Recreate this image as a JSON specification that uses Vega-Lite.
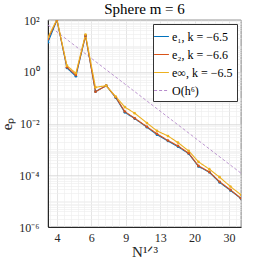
{
  "$schema": "https://vega.github.io/schema/vega-lite/v6.json",
  "width": 193,
  "height": 207,
  "autosize": "none",
  "padding": {"left": 48, "top": 20, "right": 25, "bottom": 39},
  "background": "white",
  "title": {"text": "Sphere m = 6", "font": "Liberation Serif", "fontSize": 15, "fontWeight": "normal", "color": "#000000", "offset": 4, "baseline": "bottom", "dy": 22},
  "config": {
    "view": {"stroke": "#262626", "strokeWidth": 0.6},
    "axis": {"labelFont": "Liberation Serif", "labelFontSize": 12, "labelColor": "#262626", "titleFont": "Liberation Serif", "titleFontSize": 15, "titleColor": "#262626", "titleFontWeight": "normal", "domainColor": "#262626", "ticks": false, "labelOverlap": false, "labelBound": false, "labelFlush": false},
    "legend": {"labelFont": "Liberation Serif", "labelFontSize": 12, "labelColor": "#000000"}
  },
  "datasets": {
    "errs": [
      {"n": 3.6, "err": 13.8, "series": "e₁, k = −6.5"},
      {"n": 4.0, "err": 100, "series": "e₁, k = −6.5"},
      {"n": 4.5, "err": 1.4, "series": "e₁, k = −6.5"},
      {"n": 5.0, "err": 0.67, "series": "e₁, k = −6.5"},
      {"n": 5.6, "err": 24.8, "series": "e₁, k = −6.5"},
      {"n": 6.3, "err": 0.17, "series": "e₁, k = −6.5"},
      {"n": 7.15, "err": 0.29, "series": "e₁, k = −6.5"},
      {"n": 8.0, "err": 0.1, "series": "e₁, k = −6.5"},
      {"n": 8.9, "err": 0.027, "series": "e₁, k = −6.5"},
      {"n": 10.0, "err": 0.0155, "series": "e₁, k = −6.5"},
      {"n": 11.55, "err": 0.0072, "series": "e₁, k = −6.5"},
      {"n": 13.0, "err": 0.0037, "series": "e₁, k = −6.5"},
      {"n": 14.8, "err": 0.0021, "series": "e₁, k = −6.5"},
      {"n": 16.65, "err": 0.00128, "series": "e₁, k = −6.5"},
      {"n": 18.9, "err": 0.00068, "series": "e₁, k = −6.5"},
      {"n": 21.2, "err": 0.00022, "series": "e₁, k = −6.5"},
      {"n": 24.1, "err": 0.00013, "series": "e₁, k = −6.5"},
      {"n": 27.2, "err": 0.000053, "series": "e₁, k = −6.5"},
      {"n": 30.9, "err": 0.000026, "series": "e₁, k = −6.5"},
      {"n": 35.0, "err": 0.0000125, "series": "e₁, k = −6.5"},
      {"n": 3.6, "err": 18.5, "series": "e₂, k = −6.6"},
      {"n": 4.0, "err": 100, "series": "e₂, k = −6.6"},
      {"n": 4.5, "err": 1.49, "series": "e₂, k = −6.6"},
      {"n": 5.0, "err": 0.75, "series": "e₂, k = −6.6"},
      {"n": 5.6, "err": 24.8, "series": "e₂, k = −6.6"},
      {"n": 6.3, "err": 0.17, "series": "e₂, k = −6.6"},
      {"n": 7.15, "err": 0.29, "series": "e₂, k = −6.6"},
      {"n": 8.0, "err": 0.103, "series": "e₂, k = −6.6"},
      {"n": 8.9, "err": 0.029, "series": "e₂, k = −6.6"},
      {"n": 10.0, "err": 0.016, "series": "e₂, k = −6.6"},
      {"n": 11.55, "err": 0.0075, "series": "e₂, k = −6.6"},
      {"n": 13.0, "err": 0.004, "series": "e₂, k = −6.6"},
      {"n": 14.8, "err": 0.0022, "series": "e₂, k = −6.6"},
      {"n": 16.65, "err": 0.00137, "series": "e₂, k = −6.6"},
      {"n": 18.9, "err": 0.00071, "series": "e₂, k = −6.6"},
      {"n": 21.2, "err": 0.00023, "series": "e₂, k = −6.6"},
      {"n": 24.1, "err": 0.000135, "series": "e₂, k = −6.6"},
      {"n": 27.2, "err": 0.000056, "series": "e₂, k = −6.6"},
      {"n": 30.9, "err": 0.0000273, "series": "e₂, k = −6.6"},
      {"n": 35.0, "err": 0.0000129, "series": "e₂, k = −6.6"},
      {"n": 3.6, "err": 21.5, "series": "e∞, k = −6.5"},
      {"n": 4.0, "err": 105, "series": "e∞, k = −6.5"},
      {"n": 4.5, "err": 1.72, "series": "e∞, k = −6.5"},
      {"n": 5.0, "err": 0.875, "series": "e∞, k = −6.5"},
      {"n": 5.6, "err": 27.5, "series": "e∞, k = −6.5"},
      {"n": 6.3, "err": 0.25, "series": "e∞, k = −6.5"},
      {"n": 7.15, "err": 0.29, "series": "e∞, k = −6.5"},
      {"n": 8.0, "err": 0.11, "series": "e∞, k = −6.5"},
      {"n": 8.9, "err": 0.043, "series": "e∞, k = −6.5"},
      {"n": 10.0, "err": 0.025, "series": "e∞, k = −6.5"},
      {"n": 11.55, "err": 0.0105, "series": "e∞, k = −6.5"},
      {"n": 13.0, "err": 0.0052, "series": "e∞, k = −6.5"},
      {"n": 14.8, "err": 0.0033, "series": "e∞, k = −6.5"},
      {"n": 16.65, "err": 0.00183, "series": "e∞, k = −6.5"},
      {"n": 18.9, "err": 0.00087, "series": "e∞, k = −6.5"},
      {"n": 21.2, "err": 0.00033, "series": "e∞, k = −6.5"},
      {"n": 24.1, "err": 0.000172, "series": "e∞, k = −6.5"},
      {"n": 27.2, "err": 0.0000845, "series": "e∞, k = −6.5"},
      {"n": 30.9, "err": 0.0000366, "series": "e∞, k = −6.5"},
      {"n": 35.0, "err": 0.0000175, "series": "e∞, k = −6.5"}
    ],
    "ref": [
      {"n": 3.6, "err": 64, "series": "O(h⁶)"},
      {"n": 35.0, "err": 0.00012, "series": "O(h⁶)"}
    ]
  },
  "encoding": {
    "x": {
      "field": "n", "type": "quantitative",
      "scale": {"type": "log", "domain": [3.6, 35], "nice": false, "zero": false},
      "axis": {
        "title": "N¹ᐟ³",
        "values": [3.688, 4, 4.338, 4.705, 5.102, 5.533, 6, 6.507, 7.057, 7.653, 8.299, 9, 9.761, 10.585, 11.48, 12.45, 13.5, 14.64, 15.88, 17.22, 18.67, 20.25, 21.96, 23.82, 25.83, 28.01, 30.375, 32.94],
        "labelExpr": "indexof([4,6,9,13.5,20.25,30.375], datum.value) >= 0 ? '' + floor(datum.value) : ''",
        "gridColor": {"condition": {"test": "indexof([4,6,9,13.5,20.25,30.375], datum.value) >= 0", "value": "#d4d4d4"}, "value": "#ededed"},
        "gridWidth": 0.6,
        "labelPadding": 5,
        "titlePadding": 1
      }
    },
    "y": {
      "field": "err", "type": "quantitative",
      "scale": {"type": "log", "domain": [0.000001, 100], "nice": false, "zero": false},
      "axis": {
        "title": "eₚ",
        "values": [1e-6, 2e-6, 3e-6, 4e-6, 5e-6, 6e-6, 7e-6, 8e-6, 9e-6, 1e-5, 2e-5, 3e-5, 4e-5, 5e-5, 6e-5, 7e-5, 8e-5, 9e-5, 0.0001, 0.0002, 0.0003, 0.0004, 0.0005, 0.0006, 0.0007, 0.0008, 0.0009, 0.001, 0.002, 0.003, 0.004, 0.005, 0.006, 0.007, 0.008, 0.009, 0.01, 0.02, 0.03, 0.04, 0.05, 0.06, 0.07, 0.08, 0.09, 0.1, 0.2, 0.3, 0.4, 0.5, 0.6, 0.7, 0.8, 0.9, 1, 2, 3, 4, 5, 6, 7, 8, 9, 10, 20, 30, 40, 50, 60, 70, 80, 90, 100],
        "labelExpr": "datum.value == 100 ? '10²' : datum.value == 1 ? '10⁰' : datum.value == 0.01 ? '10⁻²' : datum.value == 0.0001 ? '10⁻⁴' : datum.value == 0.000001 ? '10⁻⁶' : ''",
        "gridColor": {"condition": {"test": "indexof([100, 1, 0.01, 0.0001, 0.000001], datum.value) >= 0", "value": "#d4d4d4"}, "value": "#ededed"},
        "gridWidth": 0.6,
        "labelPadding": 9,
        "titlePadding": 4
      }
    },
    "color": {
      "field": "series", "type": "nominal",
      "scale": {"domain": ["e₁, k = −6.5", "e₂, k = −6.6", "e∞, k = −6.5", "O(h⁶)"], "range": ["#0072BD", "#D95319", "#EDB120", "#B68BCB"]},
      "legend": {"title": null, "orient": "none", "legendX": 105, "legendY": 4, "fillColor": "white", "strokeColor": "#333333", "padding": 4, "rowPadding": 3, "symbolType": "stroke", "symbolSize": 220, "symbolStrokeWidth": 1.2, "labelOffset": 2, "symbolOffset": -4}
    },
    "strokeDash": {
      "field": "series", "type": "nominal",
      "scale": {"domain": ["e₁, k = −6.5", "e₂, k = −6.6", "e∞, k = −6.5", "O(h⁶)"], "range": [[1, 0], [1, 0], [1, 0], [3, 2]]},
      "legend": {"title": null}
    }
  },
  "layer": [
    {
      "data": {"name": "ref"},
      "mark": {"type": "line", "strokeWidth": 0.9, "clip": true}
    },
    {
      "data": {"name": "errs"},
      "mark": {"type": "line", "strokeWidth": 1.1, "clip": true, "point": {"filled": true, "size": 7}}
    }
  ]
}
